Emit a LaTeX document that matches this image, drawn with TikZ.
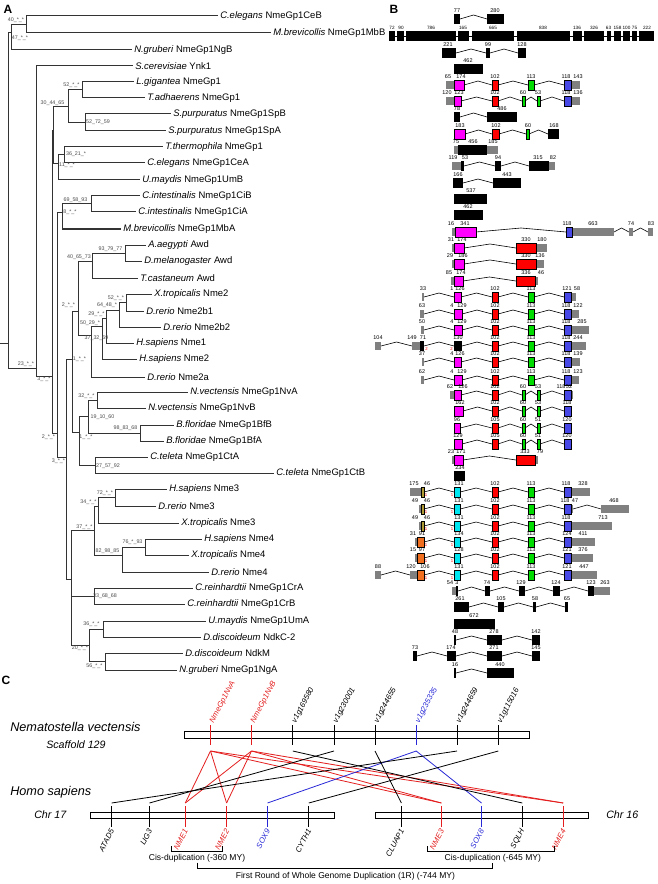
\documentclass[tikz,border=0pt]{standalone}
\usepackage{fontspec}
\setmainfont{Liberation Sans}
\definecolor{cM}{RGB}{255,0,255}
\definecolor{cR}{RGB}{255,0,0}
\definecolor{cG}{RGB}{0,220,0}
\definecolor{cB}{RGB}{72,72,230}
\definecolor{cC}{RGB}{0,230,240}
\definecolor{cO}{RGB}{240,110,30}
\definecolor{cY}{RGB}{175,155,50}
\definecolor{cU}{RGB}{128,128,128}
\definecolor{lnRed}{RGB}{228,30,30}
\definecolor{lnBlue}{RGB}{40,40,215}
\newcommand\kE[3]{\fill[black] (#1,#3-5) rectangle (#2,#3+5);}
\newcommand\gE[3]{\fill[cU] (#1,#3-4) rectangle (#2,#3+4);}
\newcommand\cE[4]{\filldraw[fill=#1,draw=black,line width=0.45pt] (#2,#4-5) rectangle (#3,#4+5);}
\newcommand\iN[3]{\draw[intron] (#1,#3) -- ({(#1+#2)/2},#3-4) -- (#2,#3);}
\newcommand\nU[3]{\node[num] at (#1,#3-6) {#2};}
\newcommand\rO[2]{\node[rnum] at (#1,#2+3.5) {1};}
\newcommand\coreRow[2]{\iN{#2}{492}{#1}\iN{498}{528}{#1}\iN{534}{564}{#1}\cE{cR}{492}{498}{#1}\cE{cG}{528}{534}{#1}\cE{cB}{564}{571}{#1}\nU{495}{102}{#1}\nU{531}{113}{#1}}
\newcommand\coreTwo[5]{\iN{#2}{492}{#1}\iN{498}{522}{#1}\iN{525}{537}{#1}\iN{540}{564}{#1}\cE{cR}{492}{498}{#1}\cE{cG}{522}{525}{#1}\cE{cG}{537}{540}{#1}\cE{cB}{564}{571}{#1}\nU{495}{#3}{#1}\nU{523}{#4}{#1}\nU{538}{#5}{#1}}
\begin{document}
\begin{tikzpicture}[x=0.75pt,y=-0.75pt,
  tree/.style={line width=0.75pt,draw=black!80},
  leaf/.style={anchor=west,inner xsep=1.5pt,inner ysep=0pt,font=\fontsize{7.1}{8}\selectfont},
  bs/.style={inner sep=0pt,font=\fontsize{4}{4.5}\selectfont,text=black!70},
  num/.style={anchor=south,inner sep=0pt,font=\fontsize{4.1}{4.5}\selectfont},
  snum/.style={anchor=south,inner sep=0pt,font=\fontsize{3.5}{4}\selectfont},
  rnum/.style={inner sep=0pt,font=\fontsize{3.2}{3.5}\selectfont,text=red},
  intron/.style={line width=0.45pt},
  panel/.style={font=\bfseries\fontsize{9}{10}\selectfont,inner sep=0pt},
  bar/.style={draw=black,fill=white,line width=0.7pt},
  conn/.style={line width=0.6pt},
  glab/.style={inner sep=0.5pt,font=\itshape\fontsize{5.8}{6}\selectfont},
  brk/.style={line width=0.6pt},
  btxt/.style={inner sep=0pt,font=\fontsize{6.4}{7}\selectfont}]
\useasboundingbox (0,0) rectangle (657,884);
\fill[white] (0,0) rectangle (657,884);
% ---------- panel letters
\node[panel] (pA) at (8,9) {A};
\node[panel] (pB) at (394,9) {B};
\node[panel] (pC) at (6,680) {C};
% ---------- tree leaves
\foreach \i/\lx/\ly/\spn/\gnm in {
0/220/16/C.elegans/NmeGp1CeB,
1/273/33/M.brevicollis/NmeGp1MbB,
2/134/50/N.gruberi/NmeGp1NgB,
3/135/66/S.cerevisiae/Ynk1,
4/136/82/L.gigantea/NmeGp1,
5/147/98/T.adhaerens/NmeGp1,
6/173/114/S.purpuratus/NmeGp1SpB,
7/168/131/S.purpuratus/NmeGp1SpA,
8/165/147/T.thermophila/NmeGp1,
9/147/163/C.elegans/NmeGp1CeA,
10/142/180/U.maydis/NmeGp1UmB,
11/142/196/C.intestinalis/NmeGp1CiB,
12/138/212/C.intestinalis/NmeGp1CiA,
13/123/229/M.brevicollis/NmeGp1MbA,
14/148/245/A.aegypti/Awd,
15/144/261/D.melanogaster/Awd,
16/140/278/T.castaneum/Awd,
17/154/294/X.tropicalis/Nme2,
18/146/311/D.rerio/Nme2b1,
19/163/327/D.rerio/Nme2b2,
20/136/343/H.sapiens/Nme1,
21/139/359/H.sapiens/Nme2,
22/147/377/D.rerio/Nme2a,
23/190/392/N.vectensis/NmeGp1NvA,
24/148/408/N.vectensis/NmeGp1NvB,
25/176/425/B.floridae/NmeGp1BfB,
26/166/441/B.floridae/NmeGp1BfA,
27/150/457/C.teleta/NmeGp1CtA,
28/276/473/C.teleta/NmeGp1CtB,
29/169/489/H.sapiens/Nme3,
30/158/506/D.rerio/Nme3,
31/181/523/X.tropicalis/Nme3,
32/204/539/H.sapiens/Nme4,
33/191/555/X.tropicalis/Nme4,
34/211/572/D.rerio/Nme4,
35/195/588/C.reinhardtii/NmeGp1CrA,
36/187/604/C.reinhardtii/NmeGp1CrB,
37/208/621/U.maydis/NmeGp1UmA,
38/203/637/D.discoideum/NdkC-2,
39/185/653/D.discoideum/NdkM,
40/179/670/N.gruberi/NmeGp1NgA}
{\node[leaf] (t\i) at (\lx-2,\ly) {\textit{\spn} \gnm};}
% ---------- internal nodes
\foreach \nm/\x/\y in {root/8/343, n47/11/33, nA/26/24.5, Bp/36/368, n3a/52/376, nE/53/131,
 n30/68/106.5, n52a/82/90, n52b/85/122.5, n11/58/163.5, n36/64/155, n2b/57/433, n8/62/212.5,
 n69/91/204, nH/66/457.5, n1a/72/359, n2a/78/311, n40/92/261.5, n93/125/253, n37b/91/335.5,
 n50/102/326.5, n29/106/318.5, n64/119/310.5, n52c/126/302.5, n1b/79/432.5, n19/88/416.5,
 n32/97/400, n98/140/433, n27/95/465, nJ/71/579.5, n37/94/530.5, n34/98/506, n72/115/497.5,
 n82/122/555.5, n76/145/547, n33/94/596, n20/89/645.5, n36b/103/629, n56/105/661.5}
 {\coordinate (\nm) at (\x,\y);}
\coordinate (rootL) at (0,343);
\draw[tree] (rootL) -- (root);
\foreach \p/\c in {root/n47, root/Bp, n47/nA, Bp/n3a, n3a/nE, n3a/n2b, nE/n30, nE/n11,
 n30/n52a, n30/n52b, n11/n36, n2b/n8, n2b/nH, n8/n69, nH/n1a, nH/nJ, n1a/n2a, n1a/n1b,
 n2a/n40, n2a/n37b, n40/n93, n37b/n50, n50/n29, n29/n64, n64/n52c, n1b/n19, n1b/n27,
 n19/n32, n19/n98, nJ/n37, nJ/n33, nJ/n20, n37/n34, n37/n82, n34/n72, n82/n76, n20/n36b, n20/n56}
 {\draw[tree] (\p) |- (\c);}
\foreach \p/\c in {nA/0, nA/1, n47/2, Bp/3, n52a/4, n52a/5, n52b/6, n52b/7, n36/8, n36/9,
 n11/10, n69/11, n69/12, n8/13, n93/14, n93/15, n40/16, n52c/17, n52c/18, n64/19, n29/20,
 n50/21, n37b/22, n32/23, n32/24, n98/25, n98/26, n27/27, n27/28, n72/29, n72/30, n34/31,
 n76/32, n76/33, n82/34, n33/35, n33/36, n36b/37, n36b/38, n56/39, n56/40}
 {\draw[tree] (\p) |- (t\c.west);}
% ---------- bootstrap labels
\foreach \x/\y/\t in {16/20/40\_*\_*, 20/38/47\_*\_*, 71.5/85/52\_*\_*, 52.5/103/30\_44\_65,
 98/122/52\_72\_59, 76/154/36\_21\_*, 67/165/11\_*\_*, 75.5/200/69\_58\_93, 70/212/8\_*\_*,
 110.5/249/93\_79\_77, 79/257/40\_65\_73, 116/298/52\_*\_*, 68.5/305/2\_*\_*, 107/305/64\_48\_*,
 96.5/314/29\_*\_*, 90/323/50\_29\_*, 96.5/338/37\_32\_69, 79.5/359/1\_*\_*, 26/364/23\_*\_*,
 44/379/3\_*\_*, 86.5/396/32\_*\_*, 102.5/417/19\_10\_60, 125.5/428/98\_83\_68, 48.5/437/2\_*\_*,
 86/437/1\_*\_*, 58.5/461/3\_*\_*, 108/466/27\_57\_92, 105/493/72\_*\_*, 88.5/502/34\_*\_*,
 84.5/527/37\_*\_*, 132.5/542/76\_*\_93, 107.5/551/82\_98\_85, 105/596/33\_68\_68,
 91.5/624/36\_*\_*, 80/648/20\_*\_*, 94.5/666/56\_*\_*}
 {\node[bs] at (\x,\y) {\t};}
% ---------- panel B
% CeB
\kE{454}{460}{19}\iN{460}{487}{19}\kE{487}{504}{19}\nU{457}{77}{19}\nU{495}{280}{19}
% MbB
\draw[intron] (389,36) -- (654,36);
\foreach \a/\b in {389/395,397/404,406/456,458/469,472/514,517/570,573/582,584/604,607/611,614/621,623/630,632/637,639/654} {\kE{\a}{\b}{36}}
\foreach \x/\t in {392/72,401/90,431/786,463/165,493/665,543/838,577/136,594/326,608.5/63,617.5/158,626.5/100,634.5/75,647/222} {\node[snum] at (\x,30) {\t};}
% NgB
\kE{442}{456}{53}\iN{456}{486}{53}\kE{486}{490}{53}\iN{490}{518}{53}\kE{518}{526}{53}
\nU{448}{221}{53}\nU{488}{99}{53}\nU{522}{128}{53}
% Ynk1
\kE{454}{483}{69}\nU{468}{462}{69}
% Lgig
\gE{446}{454}{85}\gE{571}{580}{85}\coreRow{85}{464}\cE{cM}{454}{464}{85}
\nU{448}{65}{85}\nU{461}{174}{85}\nU{566}{118}{85}\nU{578}{143}{85}
% Tadh
\gE{446}{454}{101}\gE{571}{580}{101}\coreTwo{101}{461}{102}{60}{53}\cE{cM}{454}{461}{101}
\nU{447}{120}{101}\nU{459}{123}{101}\nU{566}{118}{101}\nU{578}{136}{101}
% SpB
\kE{454}{460}{117}\iN{460}{487}{117}\kE{487}{517}{117}\nU{457}{78}{117}\nU{502}{486}{117}
% SpA
\iN{465}{492}{134}\iN{499}{526}{134}\iN{529}{548}{134}
\cE{cM}{454}{465}{134}\cE{cR}{492}{499}{134}\cE{cG}{526}{529}{134}\kE{548}{559}{134}
\nU{460}{183}{134}\nU{496}{102}{134}\nU{528}{60}{134}\nU{554}{168}{134}
% Tther
\gE{454}{458}{150}\kE{458}{487}{150}\gE{487}{498}{150}\nU{456}{75}{150}\nU{473}{456}{150}\nU{493}{185}{150}
% CeA
\gE{452}{461}{166}\kE{461}{464}{166}\iN{464}{495}{166}\kE{495}{501}{166}\iN{501}{529}{166}\kE{529}{549}{166}\gE{549}{555}{166}
\nU{453}{119}{166}\nU{465}{53}{166}\nU{498}{94}{166}\nU{538}{315}{166}\nU{553}{82}{166}
% UmB
\kE{453}{463}{183}\iN{463}{493}{183}\kE{493}{521}{183}\nU{458}{166}{183}\nU{507}{443}{183}
% CiB, CiA
\kE{454}{487}{199}\nU{471}{537}{199}
\kE{454}{483}{215}\nU{468}{462}{215}
% MbA
\iN{476}{566}{232}\iN{614}{629}{232}\iN{633}{648}{232}
\gE{452}{455}{232}\gE{572}{614}{232}\gE{629}{633}{232}\gE{648}{653}{232}
\cE{cM}{455}{476}{232}\cE{cB}{566}{572}{232}
\nU{451}{16}{232}\nU{465}{341}{232}\nU{567}{118}{232}\nU{593}{663}{232}\nU{631}{74}{232}\nU{651}{83}{232}
% Aae
\iN{464}{516}{248}\gE{452}{454}{248}\gE{536}{547}{248}\cE{cM}{454}{464}{248}\cE{cR}{516}{536}{248}
\nU{451}{31}{248}\nU{462}{174}{248}\nU{526}{330}{248}\nU{542}{180}{248}
% Dmel
\iN{464}{516}{264}\gE{452}{454}{264}\gE{536}{544}{264}\cE{cM}{454}{464}{264}\cE{cR}{516}{536}{264}
\nU{450}{29}{264}\nU{463}{186}{264}\nU{526}{330}{264}\nU{540}{136}{264}
% Tcas
\iN{463}{516}{281}\gE{451}{454}{281}\gE{535}{538}{281}\cE{cM}{454}{463}{281}\cE{cR}{516}{535}{281}
\nU{449}{85}{281}\nU{461}{174}{281}\nU{526}{336}{281}\nU{541}{46}{281}
% XtNme2
\gE{422}{424}{297}\iN{424}{454}{297}\gE{571}{576}{297}\coreRow{297}{461}\cE{cM}{454}{461}{297}
\nU{423}{33}{297}\nU{452}{1}{297}\nU{460}{126}{297}\nU{567}{121}{297}\nU{577}{58}{297}
% Nme2b1
\gE{420}{424}{314}\iN{424}{454}{314}\gE{571}{579}{314}\coreRow{314}{462}\cE{cM}{454}{462}{314}
\nU{422}{63}{314}\nU{452}{4}{314}\nU{462}{129}{314}\nU{566}{118}{314}\nU{578}{122}{314}
% Nme2b2
\gE{421}{424}{330}\iN{424}{454}{330}\gE{571}{589}{330}\coreRow{330}{462}\cE{cM}{454}{462}{330}
\nU{422}{50}{330}\nU{452}{4}{330}\nU{462}{129}{330}\nU{566}{118}{330}\nU{582}{285}{330}
% HsNme1
\gE{375}{381}{346}\iN{381}{412}{346}\gE{412}{420}{346}\kE{420}{424}{346}\iN{424}{454}{346}\gE{571}{586}{346}\coreRow{346}{462}\kE{454}{462}{346}
\nU{378}{104}{346}\nU{412}{149}{346}\nU{423}{71}{346}\nU{458}{130}{346}\nU{566}{118}{346}\nU{578}{244}{346}
\node[rnum] at (426.5,349.5) {2};\node[rnum] at (451.5,349.5) {2};
% HsNme2
\gE{422}{424}{362}\iN{424}{454}{362}\gE{571}{580}{362}\coreRow{362}{461}\cE{cM}{454}{461}{362}
\nU{422}{37}{362}\nU{452}{4}{362}\nU{460}{126}{362}\nU{566}{118}{362}\nU{578}{139}{362}
% Nme2a
\gE{421}{424}{380}\iN{424}{454}{380}\gE{571}{579}{380}\coreRow{380}{462}\cE{cM}{454}{462}{380}
\nU{422}{62}{380}\nU{452}{4}{380}\nU{462}{129}{380}\nU{566}{118}{380}\nU{578}{123}{380}
% NvA
\gE{450}{454}{395}\gE{571}{573}{395}\coreTwo{395}{461}{102}{60}{53}\cE{cM}{454}{461}{395}
\nU{450}{62}{395}\nU{463}{126}{395}\nU{561}{118}{395}\nU{569}{52}{395}
% NvB
\coreTwo{411}{463}{102}{60}{53}\cE{cM}{454}{463}{411}\nU{460}{162}{411}\nU{567}{118}{411}
% BfB
\coreTwo{428}{460}{105}{60}{51}\cE{cM}{454}{460}{428}\nU{457}{96}{428}\nU{567}{120}{428}
% BfA
\coreTwo{444}{462}{105}{60}{51}\cE{cM}{454}{462}{444}\nU{458}{129}{444}\nU{567}{120}{444}
% CtA
\iN{463}{516}{460}\gE{452}{454}{460}\gE{535}{538}{460}\cE{cM}{454}{463}{460}\cE{cR}{516}{535}{460}
\nU{451}{23}{460}\nU{461}{171}{460}\nU{525}{333}{460}\nU{540}{79}{460}
% CtB
\kE{454}{465}{476}\nU{460}{234}{476}
% HsNme3
\gE{410}{421}{492}\iN{424}{454}{492}\gE{571}{590}{492}\coreRow{492}{460}\cE{cY}{421}{424}{492}\cE{cC}{454}{460}{492}
\nU{414}{175}{492}\nU{427}{46}{492}\nU{459}{131}{492}\nU{566}{118}{492}\nU{583}{328}{492}\rO{426}{492}\rO{452}{492}
% DrNme3
\gE{419}{421}{509}\iN{424}{454}{509}\gE{571}{573}{509}\iN{573}{601}{509}\gE{601}{629}{509}\coreRow{509}{460}\cE{cY}{421}{424}{509}\cE{cC}{454}{460}{509}
\nU{415}{49}{509}\nU{427}{46}{509}\nU{459}{131}{509}\nU{565}{118}{509}\nU{575}{47}{509}\nU{614}{468}{509}\rO{426}{509}\rO{452}{509}
% XtNme3
\gE{419}{421}{526}\iN{424}{454}{526}\gE{571}{612}{526}\coreRow{526}{460}\cE{cY}{421}{424}{526}\cE{cC}{454}{460}{526}
\nU{415}{49}{526}\nU{427}{46}{526}\nU{459}{131}{526}\nU{566}{118}{526}\nU{603}{713}{526}\rO{426}{526}\rO{452}{526}
% HsNme4
\gE{415}{417}{542}\iN{424}{454}{542}\gE{571}{595}{542}\coreRow{542}{460}\cE{cO}{417}{424}{542}\cE{cC}{454}{460}{542}
\nU{413}{31}{542}\nU{422}{91}{542}\nU{459}{134}{542}\nU{567}{124}{542}\nU{583}{411}{542}\rO{426}{542}\rO{452}{542}
% XtNme4
\gE{415}{417}{558}\iN{424}{454}{558}\gE{571}{593}{558}\coreRow{558}{460}\cE{cO}{417}{424}{558}\cE{cC}{454}{460}{558}
\nU{413}{15}{558}\nU{422}{97}{558}\nU{459}{128}{558}\nU{567}{121}{558}\nU{583}{376}{558}\rO{426}{558}\rO{452}{558}
% DrNme4
\gE{375}{381}{575}\iN{381}{410}{575}\gE{410}{417}{575}\iN{424}{454}{575}\gE{571}{597}{575}\coreRow{575}{460}\cE{cO}{417}{424}{575}\cE{cC}{454}{460}{575}
\nU{378}{88}{575}\nU{411}{120}{575}\nU{425}{106}{575}\nU{459}{131}{575}\nU{567}{121}{575}\nU{584}{447}{575}\rO{426}{575}\rO{452}{575}
% CrA
\gE{452}{456}{591}\kE{456}{458}{591}\iN{458}{485}{591}\kE{485}{490}{591}\iN{490}{519}{591}\kE{519}{525}{591}\iN{525}{553}{591}\kE{553}{560}{591}\iN{560}{588}{591}\kE{588}{594}{591}\gE{594}{610}{591}
\nU{450}{54}{591}\nU{457}{3}{591}\nU{487}{74}{591}\nU{521}{129}{591}\nU{556}{124}{591}\nU{591}{123}{591}\nU{605}{263}{591}
% CrB
\kE{454}{469}{607}\iN{469}{498}{607}\kE{498}{504}{607}\iN{504}{533}{607}\kE{533}{536}{607}\iN{536}{565}{607}\kE{565}{568}{607}
\nU{460}{261}{607}\nU{501}{105}{607}\nU{535}{58}{607}\nU{567}{65}{607}
% UmA
\kE{454}{495}{624}\nU{474}{672}{624}
% NdkC-2
\kE{454}{456}{640}\iN{456}{487}{640}\kE{487}{502}{640}\iN{502}{532}{640}\kE{532}{540}{640}
\nU{455}{48}{640}\nU{494}{278}{640}\nU{536}{142}{640}
% NdkM
\kE{413}{417}{656}\iN{417}{447}{656}\kE{447}{456}{656}\iN{456}{487}{656}\kE{487}{502}{656}\iN{502}{532}{656}\kE{532}{540}{656}
\nU{415}{73}{656}\nU{451}{174}{656}\nU{494}{271}{656}\nU{536}{145}{656}
% NgA
\kE{454}{456}{673}\iN{456}{487}{673}\kE{487}{514}{673}\nU{455}{16}{673}\nU{500}{440}{673}
% ---------- panel C
\node[anchor=west,inner sep=0pt,font=\itshape\fontsize{9.5}{10}\selectfont] (nvt) at (10,727) {Nematostella vectensis};
\node[anchor=west,inner sep=0pt,font=\itshape\fontsize{8}{9}\selectfont] (sct) at (46,745) {Scaffold 129};
\node[anchor=west,inner sep=0pt,font=\itshape\fontsize{9.5}{10}\selectfont] (hst) at (10,792) {Homo sapiens};
\node[anchor=west,inner sep=0pt,font=\itshape\fontsize{8}{9}\selectfont] (c17) at (34,815) {Chr 17};
\node[anchor=west,inner sep=0pt,font=\itshape\fontsize{8}{9}\selectfont] (c16) at (606,815) {Chr 16};
\draw[bar] (184,731) rectangle (529.5,738);
\draw[bar] (90.6,812) rectangle (334,818.5);
\draw[bar] (375,812) rectangle (588.5,818.5);
\foreach \nm/\x/\c/\t in {nva/210.5/lnRed/NmeGp1NvA, nvb/251.5/lnRed/NmeGp1NvB, va/292.8/black/v1g169580,
 vb/334/black/v1g230001, vc/375/black/v1g244655, vd/416.2/lnBlue/v1g235335, ve/457/black/v1g244659, vf/498.3/black/v1g115016}
 {\coordinate (\nm) at (\x,751);
  \coordinate (\nm T) at (\x,725);
  \coordinate (\nm B) at (\x,745);
  \draw[conn,\c] (\nm T) -- (\nm B);
  \node[glab,text=\c,rotate=62,anchor=west] (\nm L) at (\x+1,723) {\t};}
\foreach \nm/\x/\c/\t in {atad/111.6/black/ATAD5, lig/149.5/black/LIG3, nmeA/185.3/lnRed/NME1, nmeB/226.6/lnRed/NME2,
 soxA/267.5/lnBlue/SOX9, cyth/308.8/black/CYTH1, cluap/401.4/black/CLUAP1, nmeC/441.4/lnRed/NME3,
 soxB/481.5/lnBlue/SOX8, sqlh/522.3/black/SQLH, nmeD/563.2/lnRed/NME4}
 {\coordinate (\nm) at (\x,803);
  \coordinate (\nm T) at (\x,806);
  \coordinate (\nm B) at (\x,827);
  \draw[conn,\c] (\nm T) -- (\nm B);
  \node[glab,text=\c,rotate=62,anchor=east] (\nm L) at (\x+1,829) {\t};}
\foreach \a/\b in {nva/nmeA, nva/nmeB, nva/nmeC, nva/nmeD, nvb/nmeA, nvb/nmeB, nvb/nmeC, nvb/nmeD}
 {\draw[conn,lnRed] (\a) -- (\b);}
\foreach \a/\b in {vd/soxA, vd/soxB} {\draw[conn,lnBlue] (\a) -- (\b);}
\foreach \a/\b in {va/sqlh, vb/lig, vc/cluap, ve/atad, vf/cyth} {\draw[conn,black] (\a) -- (\b);}
% brackets
\coordinate (bA1) at (171.4,846); \coordinate (bA2) at (222.4,846);
\coordinate (bB1) at (427.5,846); \coordinate (bB2) at (554,846);
\draw[brk] (bA1) -- ++(0,5) -| (bA2);
\draw[brk] (bB1) -- ++(0,5) -| (bB2);
\node[btxt] (cisA) at (197,858) {Cis-duplication (-360 MY)};
\node[btxt] (cisB) at (492.8,858) {Cis-duplication (-645 MY)};
\coordinate (bC1) at (197.5,862.5); \coordinate (bC2) at (492.8,862.5);
\draw[brk] (bC1) -- ++(0,5.5) -| (bC2);
\node[btxt] (wgd) at (345.4,876) {First Round of Whole Genome Duplication (1R) (-744 MY)};
\end{tikzpicture}
\end{document}
